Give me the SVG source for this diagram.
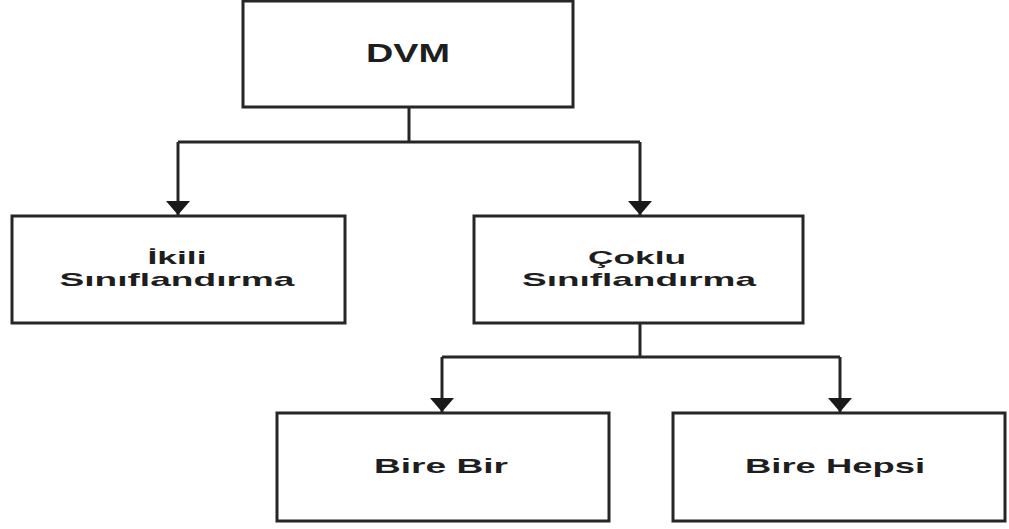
<svg xmlns="http://www.w3.org/2000/svg" width="1009" height="529" viewBox="0 0 1009 529">
  <defs>
    <style>
      .box { fill: #ffffff; stroke: #262626; stroke-width: 3; }
      .lbl { font-family: "Liberation Sans", Arial, sans-serif; font-weight: bold; fill: #1e1e1e; text-anchor: middle; }
      .conn { fill: none; stroke: #262626; stroke-width: 3; }
    </style>
    <marker id="arr" markerUnits="userSpaceOnUse" markerWidth="24" markerHeight="16" viewBox="0 0 24 16" refX="12" refY="15" orient="0">
      <path d="M0,1 L24,1 L12,15 Z" fill="#1a1a1a"/>
    </marker>
  </defs>
  <rect width="1009" height="529" fill="#ffffff"/>
  <g id="connectors">
    <path class="conn" d="M409,107 V142"/>
    <path class="conn" d="M178,142 H640"/>
    <path class="conn" d="M178,142 V215" marker-end="url(#arr)"/>
    <path class="conn" d="M640,142 V215" marker-end="url(#arr)"/>
    <path class="conn" d="M640,323 V357"/>
    <path class="conn" d="M442,357 H840"/>
    <path class="conn" d="M442,357 V412" marker-end="url(#arr)"/>
    <path class="conn" d="M840,357 V412" marker-end="url(#arr)"/>
  </g>
  <g id="dvm">
    <rect class="box" x="243" y="1" width="330" height="106"/>
    <text class="lbl" x="408" y="62" font-size="25" textLength="84" lengthAdjust="spacingAndGlyphs">DVM</text>
  </g>
  <g id="ikili">
    <rect class="box" x="12" y="216" width="333" height="107"/>
    <text class="lbl" x="177" y="264" font-size="19" textLength="59" lengthAdjust="spacingAndGlyphs">İkili</text>
    <text class="lbl" x="177" y="286" font-size="19" textLength="235" lengthAdjust="spacingAndGlyphs">Sınıflandırma</text>
  </g>
  <g id="coklu">
    <rect class="box" x="474" y="216" width="329" height="107"/>
    <text class="lbl" x="637" y="264" font-size="19" textLength="98" lengthAdjust="spacingAndGlyphs">Çoklu</text>
    <text class="lbl" x="639" y="286" font-size="19" textLength="234" lengthAdjust="spacingAndGlyphs">Sınıflandırma</text>
  </g>
  <g id="birebir">
    <rect class="box" x="277" y="413" width="332" height="108"/>
    <text class="lbl" x="441" y="473" font-size="21" textLength="134" lengthAdjust="spacingAndGlyphs">Bire Bir</text>
  </g>
  <g id="birehepsi">
    <rect class="box" x="673" y="413" width="332" height="108"/>
    <text class="lbl" x="835" y="473" font-size="21" textLength="180" lengthAdjust="spacingAndGlyphs">Bire Hepsi</text>
  </g>
</svg>
